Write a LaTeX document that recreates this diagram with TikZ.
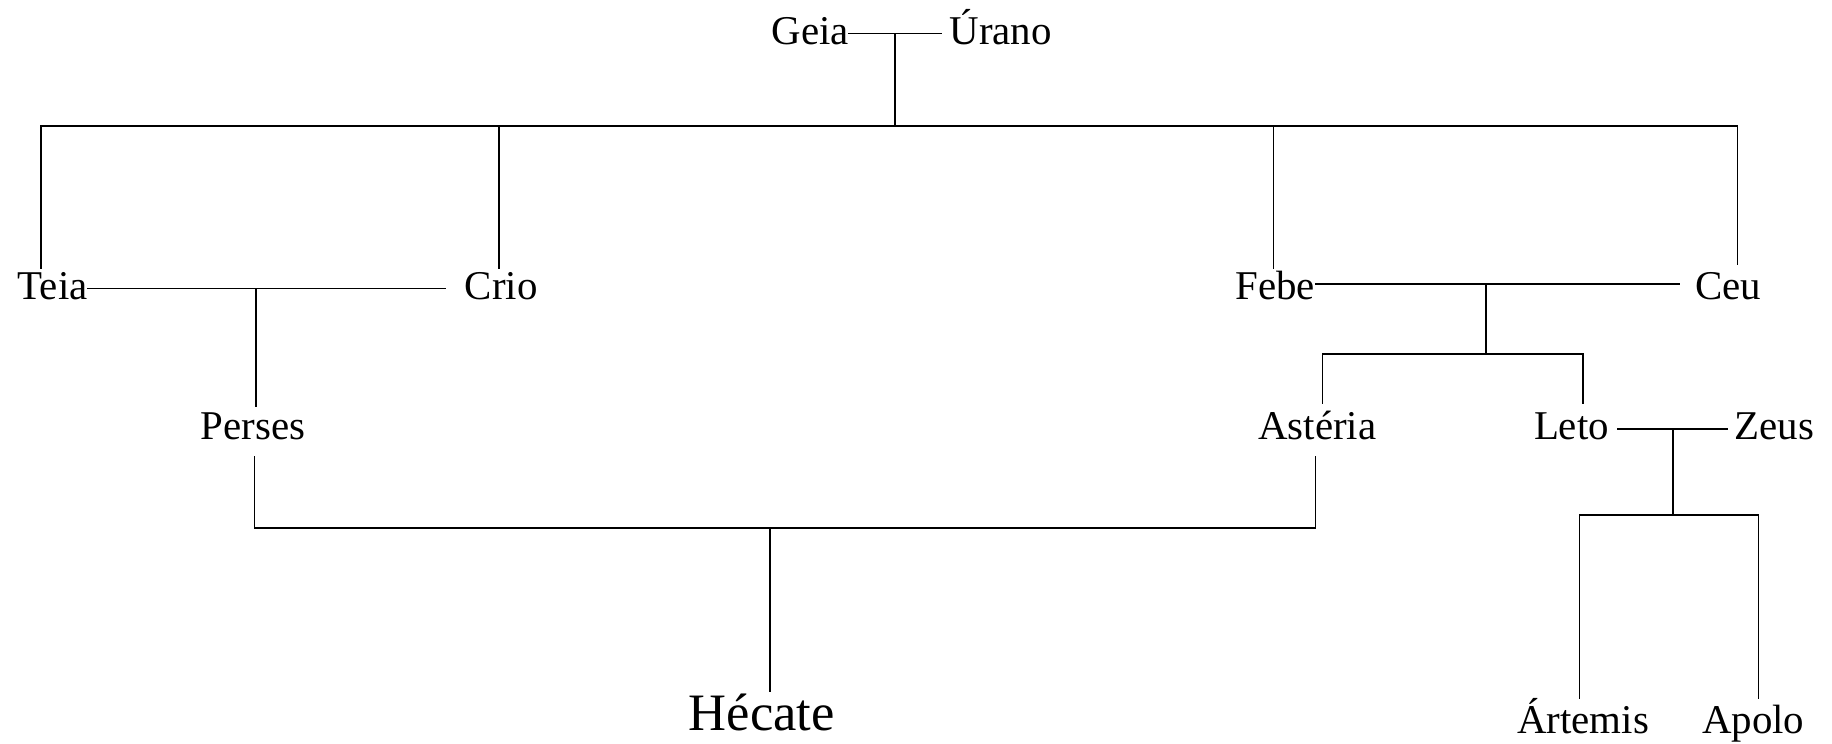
\documentclass[tikz,border=0pt]{standalone}
\usepackage{fontspec}
\setmainfont{Liberation Serif}
\begin{document}
\begin{tikzpicture}[x=1pt,y=-1pt,
  person/.style={anchor=base,inner sep=0pt,font=\fontsize{35}{40}\selectfont},
  bigperson/.style={anchor=base,inner sep=0pt,font=\fontsize{45}{50}\selectfont},
  link/.style={line width=1.3pt,line cap=rect}]
\useasboundingbox (0,0) rectangle (1568,636);
% nodes
\node[person] (geia) at (693.5,38) {Geia};
\node[person] (urano) at (856.5,38) {Úrano};
\node[person] (teia) at (45,256) {Teia};
\node[person] (crio) at (429,256) {Crio};
\node[person] (febe) at (1091.5,256) {Febe};
\node[person] (ceu) at (1479,256) {Ceu};
\node[person] (perses) at (216.5,376) {Perses};
\node[person] (asteria) at (1127.5,376) {Astéria};
\node[person] (leto) at (1345,376) {Leto};
\node[person] (zeus) at (1518.5,376) {Zeus};
\node[person] (artemis) at (1355,627.5) {Ártemis};
\node[person] (apolo) at (1500.5,627.5) {Apolo};
\node[bigperson] (hecate) at (652,625) {Hécate};
% junction coordinates
\coordinate (gu) at (766,28.5);
\coordinate (topbar) at (766,108);
\coordinate (tc) at (219,247);
\coordinate (fc) at (1272,243);
\coordinate (fcbar) at (1272,303);
\coordinate (lz) at (1432,367);
\coordinate (lzbar) at (1432,441);
\coordinate (pabar) at (659,452);
% Geia - Urano
\draw[link] (geia.east |- gu) -- (gu) -- (806,28.5);
\draw[link] (gu) -- (topbar);
\draw[link] (35,108) -- (1487,108);
\draw[link] (35,108) -- (35,230);
\draw[link] (427,108) -- (427,230);
\draw[link] (1090,108) -- (1090,230);
\draw[link] (1487,108) -- (1487,226);
% Teia - Crio
\draw[link] (teia.east |- tc) -- (tc) -- (381,247);
\draw[link] (tc) -- (219,348);
% Febe - Ceu
\draw[link] (febe.east |- fc) -- (fc) -- (1437,243);
\draw[link] (fc) -- (fcbar);
\draw[link] (1132,345) -- (1132,303) -- (1355,303) -- (1355,345);
% Leto - Zeus
\draw[link] (1385,367) -- (lz) -- (1478,367);
\draw[link] (lz) -- (lzbar);
\draw[link] (1352,598) -- (1352,441) -- (1505,441) -- (1505,598);
% Perses - Asteria
\draw[link] (218,391) -- (218,452) -- (1126,452) -- (1126,391);
\draw[link] (pabar) -- (659,592);
\end{tikzpicture}
\end{document}
